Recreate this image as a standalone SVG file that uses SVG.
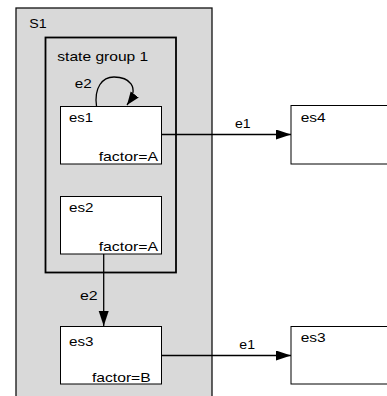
<svg xmlns="http://www.w3.org/2000/svg" width="387" height="396" viewBox="0 0 387 396">
<style>
text{font-family:"Liberation Sans",Arial,sans-serif;font-size:13.5px;fill:#000}
.box{fill:#fff;stroke:#000;stroke-width:1}
.edge{fill:none;stroke:#000;stroke-width:1.3}
</style>
<defs>
<marker id="arr" markerUnits="userSpaceOnUse" markerWidth="16" markerHeight="11" refX="15" refY="5" orient="auto">
<path d="M0,0 L15,5 L0,10 z" fill="#000"/>
</marker>
<marker id="arrS" markerUnits="userSpaceOnUse" markerWidth="14" markerHeight="11" refX="13" refY="5" orient="auto">
<path d="M0,0 L13,5 L0,10 z" fill="#000"/>
</marker>
</defs>
<g id="S1">
<rect x="16" y="8" width="196" height="400" fill="#d9d9d9" stroke="#111" stroke-width="1.3"/>
<text x="29.3" y="28.3" textLength="17.4" lengthAdjust="spacingAndGlyphs">S1</text>
</g>
<g id="stategroup1">
<rect x="45.5" y="37.5" width="130.5" height="235" fill="none" stroke="#000" stroke-width="1.8"/>
<text x="57.3" y="60.5" textLength="91" lengthAdjust="spacingAndGlyphs">state group 1</text>
</g>
<g id="es1">
<rect class="box" x="60.5" y="106.5" width="101" height="57.5"/>
<text x="69" y="121.5" textLength="24" lengthAdjust="spacingAndGlyphs">es1</text>
<text x="98.7" y="161" textLength="59.3" lengthAdjust="spacingAndGlyphs">factor=A</text>
</g>
<g id="es2">
<rect class="box" x="60.5" y="196.5" width="101" height="57.5"/>
<text x="69" y="211.7" textLength="24.5" lengthAdjust="spacingAndGlyphs">es2</text>
<text x="98.7" y="251" textLength="59.3" lengthAdjust="spacingAndGlyphs">factor=A</text>
</g>
<g id="es3">
<rect class="box" x="60.5" y="326.5" width="101" height="57.5"/>
<text x="69" y="346" textLength="24.5" lengthAdjust="spacingAndGlyphs">es3</text>
<text x="92" y="382.3" textLength="58.7" lengthAdjust="spacingAndGlyphs">factor=B</text>
</g>
<g id="es4">
<rect class="box" x="291" y="105.5" width="120" height="58.5" stroke-width="1.5"/>
<text x="300.7" y="121.7" textLength="25" lengthAdjust="spacingAndGlyphs">es4</text>
</g>
<g id="es3_out">
<rect class="box" x="291" y="326.5" width="120" height="57.5" stroke-width="1.5"/>
<text x="300.7" y="341.7" textLength="25" lengthAdjust="spacingAndGlyphs">es3</text>
</g>
<g id="connectors">
<path class="edge" d="M96.5,106 C94,88 102,77 114,77 C128,77 141,86 127,105" marker-end="url(#arrS)"/>
<text x="74.7" y="88.3" textLength="17" lengthAdjust="spacingAndGlyphs">e2</text>
<path class="edge" d="M161.5,134.5 L291,134.5" marker-end="url(#arr)"/>
<text x="235" y="128.3" textLength="15.7" lengthAdjust="spacingAndGlyphs">e1</text>
<path class="edge" d="M103.7,254 L103.7,326" marker-end="url(#arr)"/>
<text x="80" y="300" textLength="17.7" lengthAdjust="spacingAndGlyphs">e2</text>
<path class="edge" d="M161.5,355.5 L291,355.5" marker-end="url(#arr)"/>
<text x="239.3" y="349" textLength="15.7" lengthAdjust="spacingAndGlyphs">e1</text>
</g>
</svg>
